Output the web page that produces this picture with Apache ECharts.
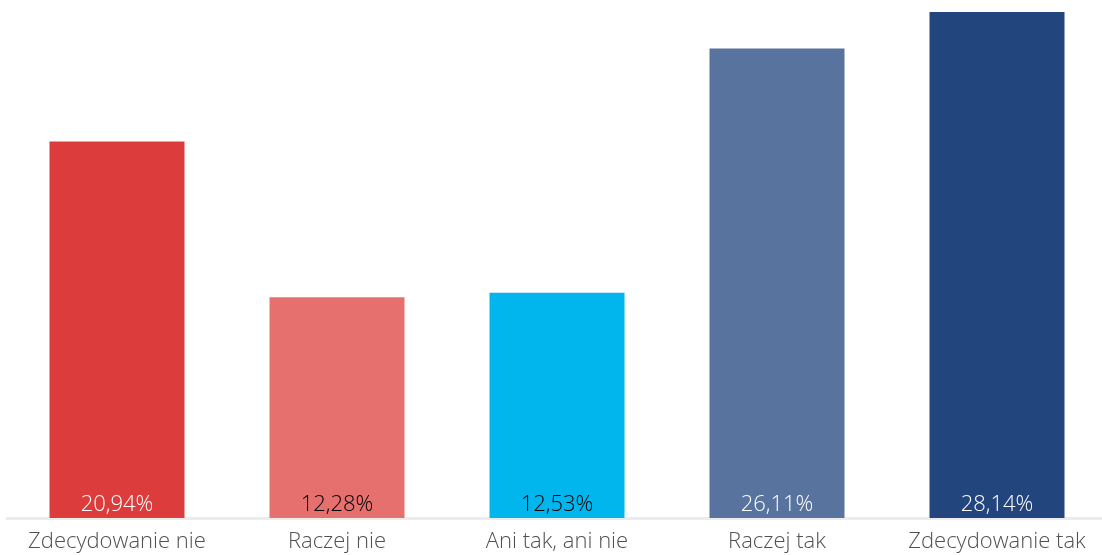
<!DOCTYPE html>
<html>
<head>
<meta charset="utf-8">
<script src="https://cdn.jsdelivr.net/npm/echarts@6/dist/echarts.min.js"></script>
<style>html,body{margin:0;padding:0;background:#fff}#c{width:1102px;height:555px}</style>
</head>
<body>
<div id="c"></div>
<script>
const categories = ['Zdecydowanie nie', 'Raczej nie', 'Ani tak, ani nie', 'Raczej tak', 'Zdecydowanie tak'];
const values = [20.94, 12.28, 12.53, 26.11, 28.14];
const barColors = ['#DC3C3B', '#E5706E', '#00B6ED', '#58739E', '#22457E'];
const labelColors = ['#ffffff', '#000000', '#000000', '#ffffff', '#ffffff'];

const chart = echarts.init(document.getElementById('c'));
chart.setOption({
  animation: false,
  grid: { left: 7, width: 1100, top: 12, bottom: 37, outerBoundsMode: 'none', containLabel: false },
  xAxis: {
    type: 'category',
    data: categories,
    offset: 2,
    axisLine: { lineStyle: { color: '#ececec', width: 3 } },
    axisTick: { show: false },
    axisLabel: { color: '#505050', fontFamily: 'Open Sans', fontWeight: 300, fontSize: 22, margin: 11, interval: 0 }
  },
  yAxis: { type: 'value', min: 0, max: 'dataMax', show: false, splitLine: { show: false } },
  series: [{
    type: 'bar',
    barWidth: 135,
    data: values.map((v, i) => ({
      value: v,
      itemStyle: { color: barColors[i] },
      label: { color: labelColors[i] }
    })),
    label: {
      show: true,
      position: 'insideBottom',
      distance: 2,
      fontFamily: 'Open Sans',
      fontWeight: 300,
      fontSize: 22,
      formatter: p => p.value.toFixed(2).replace('.', ',') + '%'
    }
  }]
});
</script>
</body>
</html>
